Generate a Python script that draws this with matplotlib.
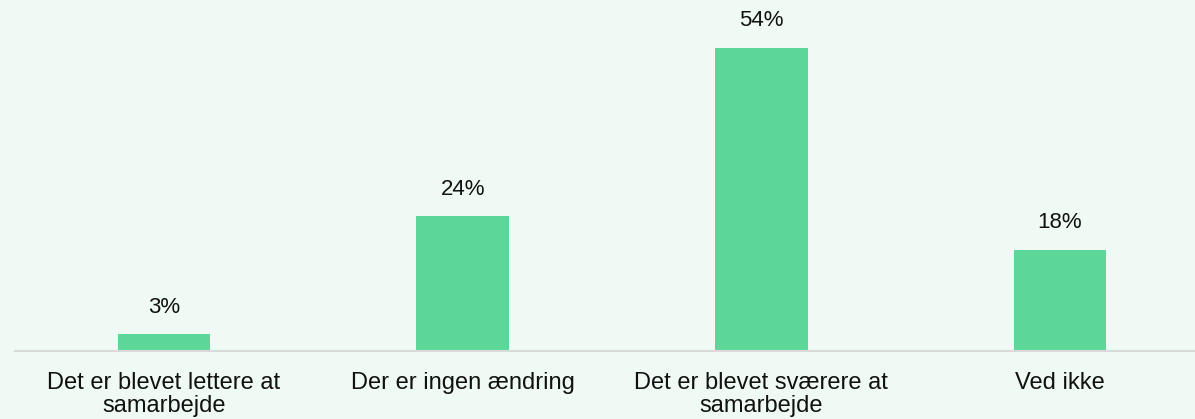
import matplotlib.pyplot as plt

categories = ["Det er blevet lettere at\nsamarbejde", "Der er ingen ændring",
              "Det er blevet sværere at\nsamarbejde", "Ved ikke"]
values = [3, 24, 54, 18]
labels = ["3%", "24%", "54%", "18%"]

BG = "#EEFAF3"
BAR = "#5CD799"

plt.rcParams['font.family'] = ['Liberation Sans', 'DejaVu Sans']

fig = plt.figure(figsize=(11.95, 4.19), dpi=100, facecolor=BG)
ax = fig.add_axes([0.0123, 1 - 351 / 419, 1 - 0.0123, 351 / 419])
ax.set_facecolor(BG)

x = range(len(values))
ax.bar(x, values, width=0.311, color=BAR, zorder=2)
for i, (v, lab) in enumerate(zip(values, labels)):
    ax.annotate(lab, (i, v), xytext=(0, 12), textcoords="offset points",
                ha="center", va="bottom", fontsize=16, color="#111111")

ax.set_xlim(-0.5, 3.452)
ax.set_ylim(0, 62.57)
ax.set_xticks(list(x))
ax.set_xticklabels(categories, fontsize=17, color="#111111", linespacing=1.05)
ax.tick_params(axis="x", length=0, pad=15)
ax.set_yticks([])
for s in ["top", "right", "left"]:
    ax.spines[s].set_visible(False)
ax.spines["bottom"].set_color("#D9D9D9")
ax.spines["bottom"].set_linewidth(1.5)

fig.savefig("out.png", dpi=100, facecolor=BG)
